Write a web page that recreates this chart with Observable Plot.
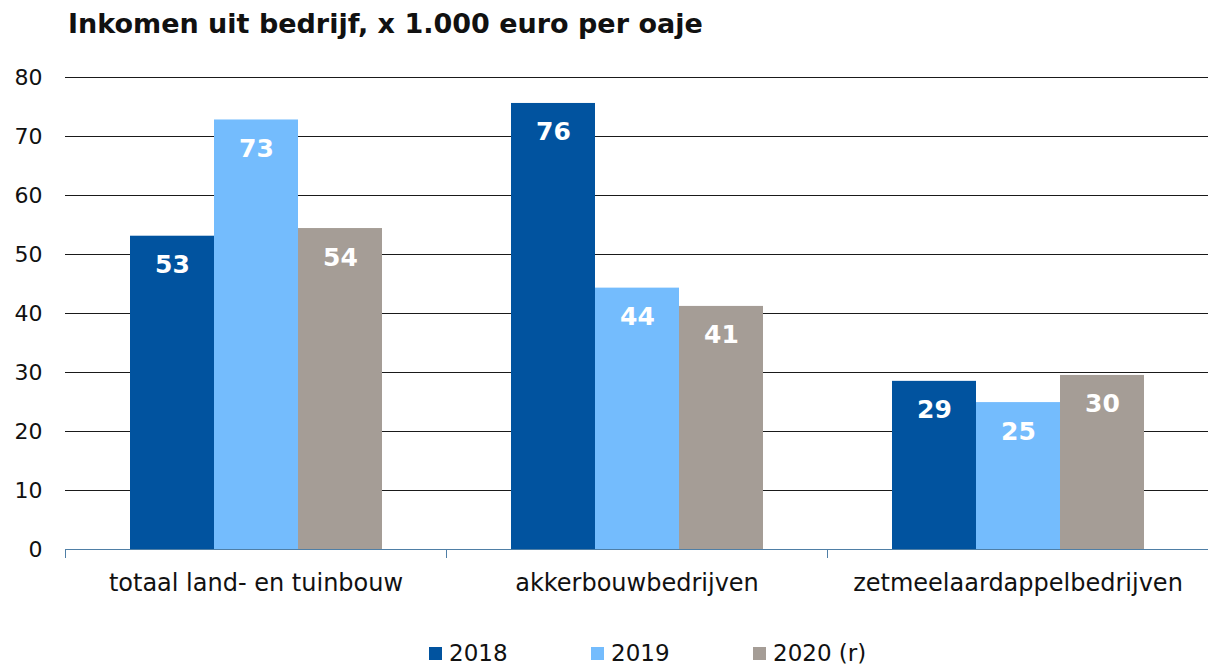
<!DOCTYPE html>
<html>
<head>
<meta charset="utf-8">
<script src="https://cdn.jsdelivr.net/npm/d3@7"></script>
<script src="https://cdn.jsdelivr.net/npm/@observablehq/plot@0.6"></script>
<style>
  html, body { margin: 0; padding: 0; background: #fff; }
  body { width: 1208px; height: 666px; position: relative; font-family: "DejaVu Sans", Verdana, sans-serif; overflow: hidden; }
  #title { position: absolute; left: 68px; top: 10px; font-weight: bold; font-size: 27px; line-height: 1; color: #111; white-space: nowrap; }
  #chart { position: absolute; left: 0; top: 50px; }
  #legend { position: absolute; left: 429px; top: 640px; display: flex; font-size: 23px; color: #111; }
  .item { display: flex; align-items: center; width: 162px; white-space: nowrap; }
  .sw { width: 13px; height: 13px; margin-right: 7px; }
</style>
</head>
<body>
<div id="title">Inkomen uit bedrijf, x 1.000 euro per oaje</div>
<div id="chart"></div>
<div id="legend"></div>
<script>
const categories = ["totaal land- en tuinbouw", "akkerbouwbedrijven", "zetmeelaardappelbedrijven"];
const years = ["2018", "2019", "2020 (r)"];
const colors = ["#01539f", "#74bcfd", "#a59d96"];
const values2018 = [53.1, 75.6, 28.5];
const values2019 = [72.8, 44.3, 24.9];
const values2020 = [54.4, 41.2, 29.5];
const labels2018 = ["53", "76", "29"];
const labels2019 = ["73", "44", "25"];
const labels2020 = ["54", "41", "30"];
const yTicks = [0, 10, 20, 30, 40, 50, 60, 70, 80];

const series = [values2018, values2019, values2020];
const seriesLabels = [labels2018, labels2019, labels2020];
const data = [];
categories.forEach((cat, i) => {
  years.forEach((year, j) => {
    data.push({cat, year, value: series[j][i], label: seriesLabels[j][i]});
  });
});

const axisColor = "#4f7fa6";

const chart = Plot.plot({
  width: 1208,
  height: 560,
  marginLeft: 65,
  marginRight: 0,
  marginTop: 27,
  marginBottom: 61,
  style: {fontFamily: "DejaVu Sans", fontSize: "22px", color: "#111", background: "#fff", overflow: "visible"},
  fx: {domain: categories, padding: 0, label: null},
  x: {domain: years, paddingInner: 0, paddingOuter: 0.75, axis: null},
  y: {domain: [0, 80], label: null},
  color: {domain: years, range: colors},
  marks: [
    Plot.gridY(yTicks.filter(d => d > 0), {stroke: "#1a1a1a", strokeOpacity: 1}),
    Plot.barY(data, {fx: "cat", x: "year", y: "value", fill: "year"}),
    Plot.text(data, {fx: "cat", x: "year", y: "value", text: "label", fill: "white", fontWeight: "bold", fontSize: 25, dy: 29}),
    Plot.ruleY([0], {stroke: axisColor}),
    Plot.frame({anchor: "left", stroke: axisColor, insetTop: 472, insetBottom: -8}),
    Plot.axisY(yTicks, {tickSize: 0, tickPadding: 23, fontSize: 22, label: null}),
    Plot.axisFx({anchor: "bottom", tickSize: 0, tickPadding: 24, fontSize: 24, label: null})
  ]
});
document.getElementById("chart").appendChild(chart);

const legend = document.getElementById("legend");
years.forEach((y, i) => {
  const item = document.createElement("div");
  item.className = "item";
  const sw = document.createElement("span");
  sw.className = "sw";
  sw.style.background = colors[i];
  const t = document.createElement("span");
  t.textContent = y;
  item.appendChild(sw);
  item.appendChild(t);
  legend.appendChild(item);
});
</script>
</body>
</html>
